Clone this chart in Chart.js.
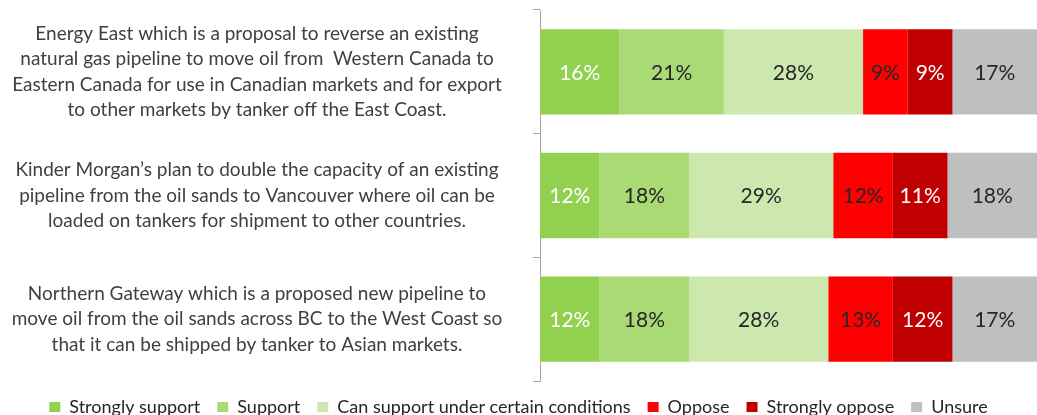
<!DOCTYPE html>
<html>
<head>
<meta charset="utf-8">
<script src="https://cdn.jsdelivr.net/npm/chart.js@4.4.1/dist/chart.umd.min.js"></script>
<style>
  html, body { margin: 0; padding: 0; background: #fff; }
  #wrap { width: 1037px; height: 415px; }
</style>
</head>
<body>
<div id="wrap"><canvas id="chart"></canvas></div>
<script>
const categories = [
  ["Energy East which is a proposal to reverse an existing",
   "natural gas pipeline to move oil from  Western Canada to",
   "Eastern Canada for use in Canadian markets and for export",
   "to other markets by tanker off the East Coast."],
  ["Kinder Morgan\u2019s plan to double the capacity of an existing",
   "pipeline from the oil sands to Vancouver where oil can be",
   "loaded on tankers for shipment to other countries."],
  ["Northern Gateway which is a proposed new pipeline to",
   "move oil from the oil sands across BC to the West Coast so",
   "that it can be shipped by tanker to Asian markets."]
]
const seriesNames = ["Strongly support", "Support", "Can support under certain conditions", "Oppose", "Strongly oppose", "Unsure"]
const stronglySupport = [16, 12, 12]
const support = [21, 18, 18]
const canSupport = [28, 29, 28]
const oppose = [9, 12, 13]
const stronglyOppose = [9, 11, 12]
const unsure = [17, 18, 17]

const colors = ["#92D050", "#A9DA74", "#CCE8AF", "#FF0000", "#C00000", "#BFBFBF"]
const labelColors = ["#ffffff", "#262626", "#262626", "#262626", "#ffffff", "#262626"]

const labelFont = { family: "Lato", size: 19, lineHeight: 1.34 }
const tickLen = 7
const labelCenterX = 257
const axisX = 540

// measure widest category line so the centred labels land in the right place
const mctx = document.createElement("canvas").getContext("2d")
mctx.font = labelFont.size + "px " + labelFont.family
let widest = 0
categories.forEach((lines) => lines.forEach((l) => { widest = Math.max(widest, mctx.measureText(l).width) }))
const tickPad = axisX - tickLen - widest / 2 - labelCenterX

// value labels inside each segment
const segmentLabels = {
  id: "segmentLabels",
  afterDatasetsDraw(chart) {
    const ctx = chart.ctx
    ctx.save()
    ctx.font = "21px Lato"
    ctx.textAlign = "center"
    ctx.textBaseline = "middle"
    chart.data.datasets.forEach((ds, i) => {
      const meta = chart.getDatasetMeta(i)
      meta.data.forEach((bar, j) => {
        ctx.fillStyle = labelColors[i]
        ctx.fillText(ds.data[j] + "%", (bar.x + bar.base) / 2, bar.y + 1)
      })
    })
    ctx.restore()
  }
}

const allSeries = [stronglySupport, support, canSupport, oppose, stronglyOppose, unsure]

new Chart(document.getElementById("chart"), {
  type: "bar",
  data: {
    labels: categories,
    datasets: allSeries.map((values, i) => ({
      label: seriesNames[i],
      data: values,
      backgroundColor: colors[i],
      borderWidth: 0,
      barPercentage: 0.69,
      categoryPercentage: 1
    }))
  },
  options: {
    indexAxis: "y",
    responsive: true,
    maintainAspectRatio: false,
    animation: false,
    layout: { padding: { top: 10, right: 0, bottom: -11, left: 0 } },
    plugins: {
      legend: {
        position: "bottom",
        labels: {
          boxWidth: 11,
          boxHeight: 10,
          padding: 17,
          color: "#262626",
          font: { family: "Lato", size: 18 }
        }
      },
      tooltip: { enabled: false }
    },
    scales: {
      x: { stacked: true, min: 0, max: 100, display: false },
      y: {
        stacked: true,
        afterFit: (scale) => {
          scale.width = axisX
          scale.paddingTop = 0
          scale.paddingBottom = 0
        },
        border: { display: true, color: "#A6A6A6", width: 1 },
        grid: { offset: true, drawOnChartArea: false, drawTicks: true, tickLength: tickLen, color: "#A6A6A6" },
        ticks: {
          crossAlign: "center",
          padding: tickPad,
          color: "#404040",
          font: labelFont
        }
      }
    }
  },
  plugins: [segmentLabels]
})
</script>
</body>
</html>
